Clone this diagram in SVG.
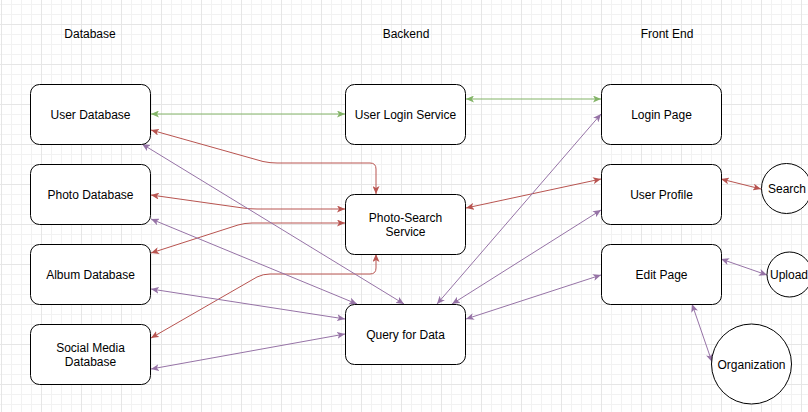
<svg xmlns="http://www.w3.org/2000/svg" width="808" height="412" viewBox="0 0 808 412">
<style>
.box{fill:#fff;stroke:#000;stroke-width:1}
.t{font-family:"Liberation Sans",Arial,Helvetica,sans-serif;font-size:12px;fill:#000;text-anchor:middle}
.e{fill:none;stroke-width:1}
.g{stroke:#82b366;marker-start:url(#mg);marker-end:url(#mg)}
.r{stroke:#b85450;marker-start:url(#mr);marker-end:url(#mr)}
.p{stroke:#9673a6;marker-start:url(#mp);marker-end:url(#mp)}
</style>
<defs>
<pattern id="gmin" x="1" y="4" width="10" height="10" patternUnits="userSpaceOnUse">
<rect x="0" y="0" width="10" height="1" fill="#f2f2f2"/>
<rect x="0" y="0" width="1" height="10" fill="#f2f2f2"/>
</pattern>
<pattern id="gmaj" x="1" y="24" width="40" height="40" patternUnits="userSpaceOnUse">
<rect x="0" y="0" width="40" height="1" fill="#e6e6e6"/>
<rect x="0" y="0" width="1" height="40" fill="#e6e6e6"/>
</pattern>
<marker id="mg" viewBox="0 0 8 7" refX="8" refY="3.5" markerWidth="8" markerHeight="7" orient="auto-start-reverse" markerUnits="userSpaceOnUse"><path d="M0,0 L8,3.5 L0,7 L2,3.5 Z" fill="#82b366"/></marker>
<marker id="mr" viewBox="0 0 8 7" refX="8" refY="3.5" markerWidth="8" markerHeight="7" orient="auto-start-reverse" markerUnits="userSpaceOnUse"><path d="M0,0 L8,3.5 L0,7 L2,3.5 Z" fill="#b85450"/></marker>
<marker id="mp" viewBox="0 0 8 7" refX="8" refY="3.5" markerWidth="8" markerHeight="7" orient="auto-start-reverse" markerUnits="userSpaceOnUse"><path d="M0,0 L8,3.5 L0,7 L2,3.5 Z" fill="#9673a6"/></marker>
</defs>
<rect width="808" height="412" fill="#fff"/>
<rect width="808" height="412" fill="url(#gmin)"/>
<rect width="808" height="412" fill="url(#gmaj)"/>

<g id="headers">
<text class="t" x="90" y="38">Database</text>
<text class="t" x="406" y="38">Backend</text>
<text class="t" x="667" y="38">Front End</text>
</g>

<g id="connectors">
<path class="e g" d="M151,114 L345,114"/>
<path class="e g" d="M466,99 L601,99"/>
<path class="e r" d="M151,130 L263,161.5 Q270,163 277,163 L370,163 Q376,163 376,169 L376,194"/>
<path class="e r" d="M151,195 L243,208 Q250,209 257,209 L345,209"/>
<path class="e r" d="M151,253 L238,225 Q245,223 252,223 L345,223"/>
<path class="e r" d="M151,338 L257,277 Q263,274 270,274 L370,274 Q376,274 376,268 L376,254"/>
<path class="e r" d="M466,208 L601,179"/>
<path class="e r" d="M721,179 L761,189"/>
<path class="e p" d="M142,144 L404,304"/>
<path class="e p" d="M151,219 L357,304"/>
<path class="e p" d="M151,289 L345,319"/>
<path class="e p" d="M151,369 L345,334"/>
<path class="e p" d="M601,114 L437,304"/>
<path class="e p" d="M601,210 L452,304"/>
<path class="e p" d="M601,275 L466,319"/>
<path class="e p" d="M721,259 L767,275"/>
<path class="e p" d="M692,304 L712,362"/>
</g>

<g id="user-database"><rect class="box" x="30.5" y="84.5" width="120" height="60" rx="9"/><text class="t" x="90.5" y="118.5">User Database</text></g>
<g id="photo-database"><rect class="box" x="30.5" y="164.5" width="120" height="60" rx="9"/><text class="t" x="90.5" y="198.5">Photo Database</text></g>
<g id="album-database"><rect class="box" x="30.5" y="244.5" width="120" height="60" rx="9"/><text class="t" x="90.5" y="278.5">Album Database</text></g>
<g id="social-media-database"><rect class="box" x="30.5" y="324.5" width="120" height="60" rx="9"/><text class="t" x="90.5" y="351.5">Social Media</text><text class="t" x="90.5" y="365.5">Database</text></g>

<g id="user-login-service"><rect class="box" x="345.5" y="84.5" width="120" height="60" rx="9"/><text class="t" x="405.5" y="118.5">User Login Service</text></g>
<g id="photo-search-service"><rect class="box" x="345.5" y="194.5" width="120" height="60" rx="9"/><text class="t" x="405.5" y="221.5">Photo-Search</text><text class="t" x="405.5" y="235.5">Service</text></g>
<g id="query-for-data"><rect class="box" x="345.5" y="304.5" width="120" height="60" rx="9"/><text class="t" x="405.5" y="338.5">Query for Data</text></g>

<g id="login-page"><rect class="box" x="601.5" y="84.5" width="120" height="60" rx="9"/><text class="t" x="661.5" y="118.5">Login Page</text></g>
<g id="user-profile"><rect class="box" x="601.5" y="164.5" width="120" height="60" rx="9"/><text class="t" x="661.5" y="198.5">User Profile</text></g>
<g id="edit-page"><rect class="box" x="601.5" y="244.5" width="120" height="60" rx="9"/><text class="t" x="661.5" y="278.5">Edit Page</text></g>

<g id="search"><circle class="box" cx="786.5" cy="188.5" r="25"/><text class="t" x="787" y="193">Search</text></g>
<g id="upload"><circle class="box" cx="789.5" cy="274.5" r="22.5"/><text class="t" x="789" y="279">Upload</text></g>
<g id="organization"><circle class="box" cx="751.5" cy="364" r="40"/><text class="t" x="751.5" y="368.5">Organization</text></g>
</svg>
